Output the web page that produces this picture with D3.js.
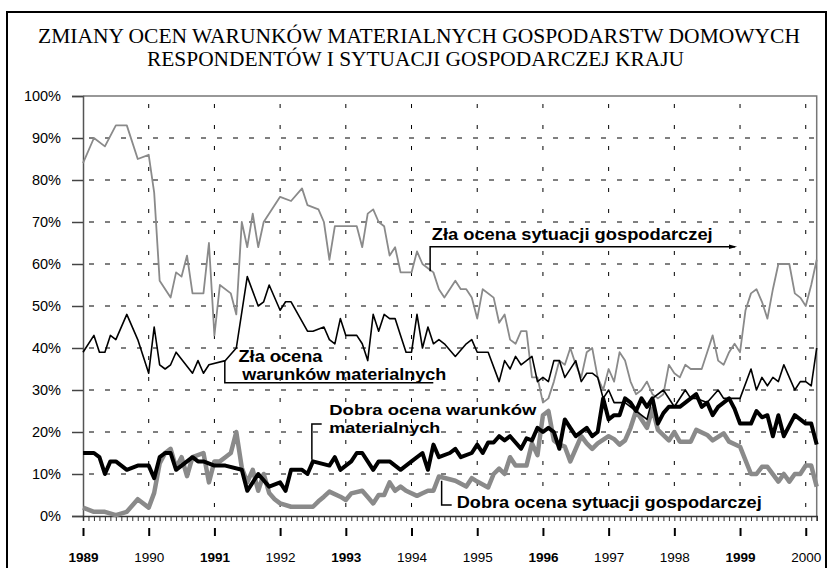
<!DOCTYPE html>
<html>
<head>
<meta charset="utf-8">
<script src="https://cdn.jsdelivr.net/npm/d3@7"></script>
<style>
  body { margin: 0; background: #fff; }
  svg { display: block; }
  .lbl { font-family: "Liberation Sans", Arial, sans-serif; font-weight: bold; font-size: 17px; fill: #000; }
  .lbl.tight { font-size: 15.5px; }
</style>
</head>
<body>
<div id="vis"></div>
<script>
// chart size
const FRAME_WIDTH = 830;
const FRAME_HEIGHT = 568;
const MARGINS = {left: 83, right: 13.3, top: 96, bottom: 52};

// months counted from January 1989
const zlaSytMonths = [0,2,4,6,8,10,12,13,14,16,17,18,19,20,22,23,24,25,27,28,29,30,31,32,33,36,38,40,41,43,44,45,46,50,51,52,53,54,55,56,57,58,60,61,62,63,64,65,66,68,69,70,71,72,73,75,76,77,78,79,80,81,82,83,84,85,86,87,88,89,90,91,92,93,94,95,96,97,98,99,100,101,102,103,104,105,106,107,108,109,110,111,113,114,115,116,117,118,119,120,121,122,123,124,125,126,127,129,130,131,132,133,134];
const zlaSytValues = [84,90,88,93,93,85,86,77,56,52,58,57,62,53,53,65,43,55,53,48,70,64,72,64,70,76,75,78,74,73,70,61,69,69,64,72,73,70,69,62,64,58,58,63,60,59,58,54,52,56,54,54,52,47,54,52,46,48,42,41,44,44,33,33,27,28,32,37,36,40,36,33,39,40,33,30,35,32,39,37,32,29,30,32,29,28,29,36,34,33,36,35,35,39,43,37,36,39,41,39,49,53,54,51,47,54,60,60,53,52,50,55,61];

const zlaWarMonths = [0,2,3,4,5,6,8,10,12,13,14,15,16,17,20,21,22,23,26,28,30,32,33,34,36,37,38,41,42,44,45,46,47,48,50,51,52,53,54,55,56,57,58,59,60,61,62,63,64,65,66,68,70,71,72,74,76,77,78,79,80,82,83,84,85,86,87,88,90,91,92,93,94,95,96,97,99,100,102,103,104,106,108,110,111,112,114,116,117,120,122,123,124,125,126,127,128,129,130,131,132,133,134];
const zlaWarValues = [39,43,39,39,43,42,48,42,34,45,36,35,36,39,34,37,34,36,37,40,57,50,51,55,49,51,51,44,44,45,42,41,47,43,43,41,37,48,44,48,47,47,43,39,39,48,40,45,41,42,41,38,41,42,39,39,32,37,35,38,36,38,32,33,32,37,37,33,37,32,34,34,33,28,30,27,27,26,24,23,28,30,26,30,28,28,27,30,28,28,35,30,33,31,33,32,36,33,30,32,32,31,40];

const dobraWarMonths = [0,2,3,4,5,6,8,10,12,13,14,15,16,17,18,20,21,22,24,26,29,30,32,34,36,37,38,40,41,42,45,46,47,49,50,51,53,54,56,58,60,62,63,64,65,67,68,69,71,72,73,74,75,76,77,78,80,81,82,83,84,85,86,87,88,89,90,92,93,94,95,96,97,98,99,100,101,102,103,104,105,106,107,109,110,111,112,113,114,115,116,118,119,120,122,123,124,125,126,127,128,130,132,133,134];
const dobraWarValues = [15,15,14,10,13,13,11,12,12,9,14,15,15,11,12,14,13,13,12,12,11,6,10,7,8,6,11,11,10,13,12,14,11,13,15,15,11,13,13,11,13,15,11,17,14,15,16,14,15,17,15,17.5,17.5,19,18,19,16,18.5,18,21,20,21,20,16,23,21,19,21,19,20,28,23,24,24,28,27,25,28,26,28,22,24.5,26,26,27,28,29,26,27,24,26,28,25.5,22,22,25,23.5,24,19,24,19,24,22,22,17];

const dobraSytMonths = [0,2,4,6,8,10,12,13,14,15,16,17,18,19,20,22,23,24,25,26,27,28,29,30,31,32,33,34,35,36,38,42,43,44,45,47,48,49,51,52,53,54,55,56,57,58,59,61,62,63,64,65,68,70,71,72,74,75,76,77,78,79,81,82,83,84,85,86,87,88,89,91,92,93,94,96,97,98,99,100,101,103,104,105,107,108,109,111,112,114,115,117,118,120,122,123,124,125,127,128,129,130,131,132,133,134];
const dobraSytValues = [2,1,1,0.2,1,4,2,5.5,12.5,15,16,11.5,14,9.5,14,15,8,13,13,14,15,20,11.5,8,11,6,10,5.5,4,3,2.2,2.2,3.5,4.6,5.8,4.6,3.8,5.4,6,4.5,3,5,5,8,6,7,6,4.8,5.4,6,6,9.4,8.4,7,9,8.2,6.8,10,11.3,10,14,12,12,17.3,14.5,24,25,18,17,16.5,13,19,17.3,16,17.3,19,18.3,17,18,21,25,21,25.6,20.5,18,20,17.7,17.7,20.5,19.3,18,19.7,17.7,16.5,10,10,11.7,11.7,8.2,10,8.2,10,10,12,12,7];

// axis labels
const yTicks = [0,10,20,30,40,50,60,70,80,90,100];
const yearLabels = ["1989","1990","1991","1992","1993","1994","1995","1996","1997","1998","1999","2000"];
const boldYears = ["1989","1991","1993","1996","1999"];
const LAST_MONTH = 134;

const titleLines = ["ZMIANY OCEN WARUNKÓW MATERIALNYCH GOSPODARSTW DOMOWYCH",
                    "RESPONDENTÓW I SYTUACJI GOSPODARCZEJ KRAJU"];

const FRAME = d3.select("#vis")
  .append("svg")
    .attr("width", FRAME_WIDTH)
    .attr("height", FRAME_HEIGHT);

const VIS_LEFT = MARGINS.left;
const VIS_RIGHT = FRAME_WIDTH - MARGINS.right;
const VIS_TOP = MARGINS.top;
const VIS_BOTTOM = FRAME_HEIGHT - MARGINS.bottom;

const X_SCALE = d3.scaleLinear().domain([0, LAST_MONTH]).range([VIS_LEFT, VIS_RIGHT]);
const Y_SCALE = d3.scaleLinear().domain([0, 100]).range([VIS_BOTTOM, VIS_TOP]);

// outer frame
FRAME.append("rect")
  .attr("x", 7).attr("y", 12)
  .attr("width", 819).attr("height", 600)
  .attr("fill", "none").attr("stroke", "#000").attr("stroke-width", 2);

// title
const TITLE_LEN = [762, 537];
FRAME.selectAll(".title")
  .data(titleLines)
  .enter()
  .append("text")
    .attr("class", "title")
    .attr("x", (d, i) => i == 0 ? 38 : 147)
    .attr("y", (d, i) => 43 + i * 23)
    .attr("textLength", (d, i) => TITLE_LEN[i])
    .attr("lengthAdjust", "spacingAndGlyphs")
    .attr("font-family", "'Liberation Serif', 'Times New Roman', serif")
    .attr("font-size", 22)
    .text(d => d);

// grid
const yearMonths = yearLabels.map((d, i) => i * 12);

FRAME.selectAll(".hgrid")
  .data(yTicks.filter(d => d > 0 && d < 100))
  .enter()
  .append("line")
    .attr("x1", VIS_LEFT).attr("x2", VIS_RIGHT)
    .attr("y1", d => Y_SCALE(d)).attr("y2", d => Y_SCALE(d))
    .attr("stroke", "#000").attr("stroke-width", 1)
    .attr("stroke-dasharray", "5,11")
    .attr("stroke-dashoffset", -6);

FRAME.selectAll(".vgrid")
  .data(yearMonths.filter(d => d > 0))
  .enter()
  .append("line")
    .attr("x1", d => X_SCALE(d)).attr("x2", d => X_SCALE(d))
    .attr("y1", VIS_TOP).attr("y2", VIS_BOTTOM)
    .attr("stroke", "#000").attr("stroke-width", 1)
    .attr("stroke-dasharray", "4,17")
    .attr("stroke-dashoffset", -8);

// plot border top and right
FRAME.append("path")
  .attr("d", `M${VIS_LEFT},${VIS_TOP}H${VIS_RIGHT}V${VIS_BOTTOM}`)
  .attr("fill", "none").attr("stroke", "#777").attr("stroke-width", 1.5);

// y axis
const yAxis = FRAME.append("g")
  .attr("transform", "translate(" + VIS_LEFT + ",0)")
  .call(d3.axisLeft(Y_SCALE).tickValues(yTicks).tickSize(11).tickPadding(11)
        .tickFormat(d => d + "%"));
yAxis.select(".domain").attr("stroke", "#555").attr("stroke-width", 1.5);
yAxis.selectAll(".tick line").attr("stroke", "#444").attr("stroke-width", 1.5);
yAxis.selectAll("text")
  .attr("font-family", "'Liberation Sans', Arial, sans-serif")
  .attr("font-size", 14.5)
  .attr("fill", "#000");

// monthly minor ticks on 0% line
const xMinor = FRAME.append("g")
  .attr("transform", "translate(0," + VIS_BOTTOM + ")")
  .call(d3.axisBottom(X_SCALE).tickValues(d3.range(0, LAST_MONTH + 1)).tickSize(5).tickFormat(""));
xMinor.select(".domain").attr("stroke", "#333").attr("stroke-width", 1.5);
xMinor.selectAll(".tick line").attr("stroke", "#333");

// year ticks with labels
const xYears = FRAME.append("g")
  .attr("transform", "translate(0," + (VIS_BOTTOM + 12) + ")")
  .call(d3.axisBottom(X_SCALE).tickValues(yearMonths).tickSize(8).tickPadding(16)
        .tickFormat((d, i) => yearLabels[i]));
xYears.select(".domain").remove();
xYears.selectAll(".tick line").attr("stroke", "#000").attr("stroke-width", 2);
xYears.selectAll("text")
  .attr("font-family", "'Liberation Sans', Arial, sans-serif")
  .attr("font-size", 13.5)
  .attr("fill", "#000")
  .attr("font-weight", (d, i) => boldYears.includes(yearLabels[i]) ? "bold" : "normal");

// series
const line = d3.line()
  .x(d => X_SCALE(d[0]))
  .y(d => Y_SCALE(d[1]));

const series = [
  {m: dobraSytMonths, v: dobraSytValues, color: "#8a8a8a", width: 4.5},
  {m: dobraWarMonths, v: dobraWarValues, color: "#000", width: 4},
  {m: zlaSytMonths, v: zlaSytValues, color: "#8a8a8a", width: 1.8},
  {m: zlaWarMonths, v: zlaWarValues, color: "#000", width: 1.6}
];

FRAME.selectAll(".series")
  .data(series)
  .enter()
  .append("path")
    .attr("d", s => line(s.m.map((d, i) => [d, s.v[i]])))
    .attr("fill", "none")
    .attr("stroke", s => s.color)
    .attr("stroke-width", s => s.width)
    .attr("stroke-linejoin", "round");

// annotations: anchor on the line (month, value), then leader to label
function leader(points) {
  return "M" + points.map(p => p.join(",")).join("L");
}

// Zła ocena sytuacji gospodarczej
FRAME.append("path")
  .attr("d", leader([[X_SCALE(63.4), Y_SCALE(58.3)], [X_SCALE(63.4), 246.7], [735, 246.7]]))
  .attr("fill", "none").attr("stroke", "#000").attr("stroke-width", 1.5);
FRAME.append("path")
  .attr("d", "M729,244.5L737,246.7L729,249Z").attr("fill", "#000");
FRAME.append("text").attr("class", "lbl")
  .attr("x", 431.7).attr("y", 240).attr("textLength", 281).attr("lengthAdjust", "spacingAndGlyphs")
  .text("Zła ocena sytuacji gospodarczej");

// Zła ocena warunków materialnych
FRAME.append("path")
  .attr("d", leader([[X_SCALE(25.9), Y_SCALE(37)], [X_SCALE(25.9), 382.7], [433.3, 382.7]]))
  .attr("fill", "none").attr("stroke", "#000").attr("stroke-width", 1.5);
FRAME.append("text").attr("class", "lbl")
  .attr("x", 238.5).attr("y", 362).attr("textLength", 84).attr("lengthAdjust", "spacingAndGlyphs")
  .text("Zła ocena");
FRAME.append("text").attr("class", "lbl")
  .attr("x", 242.3).attr("y", 380).attr("textLength", 204).attr("lengthAdjust", "spacingAndGlyphs")
  .text("warunków materialnych");

// Dobra ocena warunków materialnych
FRAME.append("path")
  .attr("d", leader([[X_SCALE(41.8), Y_SCALE(13.4)], [X_SCALE(41.8), 424], [321.7, 424]]))
  .attr("fill", "none").attr("stroke", "#000").attr("stroke-width", 1.5);
FRAME.append("text").attr("class", "lbl tight")
  .attr("x", 329.3).attr("y", 415).attr("textLength", 207).attr("lengthAdjust", "spacingAndGlyphs")
  .text("Dobra ocena warunków");
FRAME.append("text").attr("class", "lbl tight")
  .attr("x", 329.3).attr("y", 433).attr("textLength", 111).attr("lengthAdjust", "spacingAndGlyphs")
  .text("materialnych");

// Dobra ocena sytuacji gospodarczej
FRAME.append("path")
  .attr("d", leader([[X_SCALE(65.5), Y_SCALE(8.4)], [X_SCALE(65.5), 505], [451.7, 505]]))
  .attr("fill", "none").attr("stroke", "#000").attr("stroke-width", 1.5);
FRAME.append("text").attr("class", "lbl")
  .attr("x", 456.7).attr("y", 508.3).attr("textLength", 305).attr("lengthAdjust", "spacingAndGlyphs")
  .text("Dobra ocena sytuacji gospodarczej");
</script>
</body>
</html>
